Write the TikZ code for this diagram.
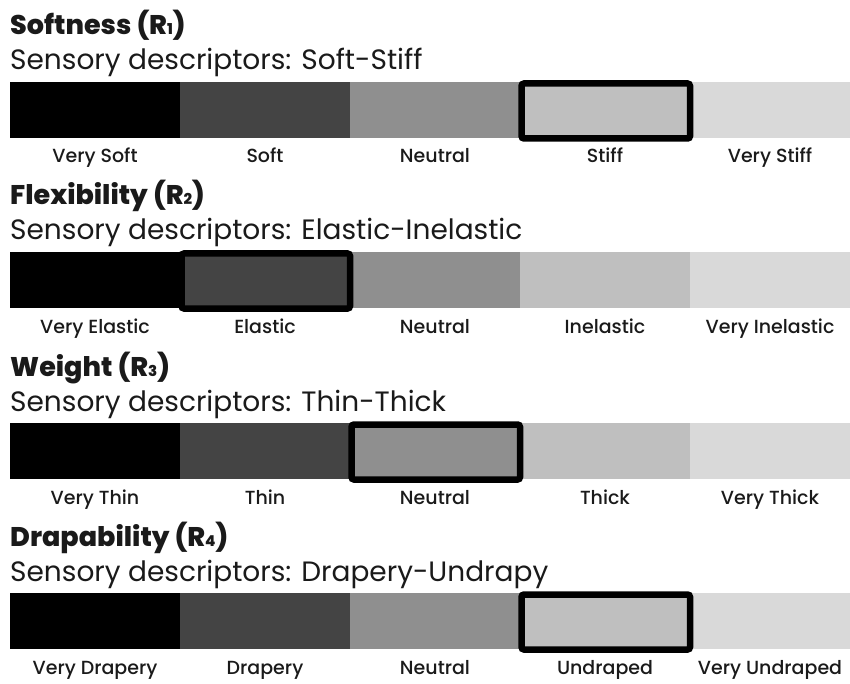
\documentclass[tikz,border=0pt]{standalone}
\usepackage{fontspec}
\setmainfont{Poppins}
\newfontfamily\headfont{Poppins ExtraBold}
\newfontfamily\lblfont{Poppins Medium}
\usetikzlibrary{calc}
\definecolor{shadeA}{HTML}{000000}
\definecolor{shadeB}{HTML}{444444}
\definecolor{shadeC}{HTML}{8F8F8F}
\definecolor{shadeD}{HTML}{BFBFBF}
\definecolor{shadeE}{HTML}{D9D9D9}
\definecolor{ink}{HTML}{1A1A1A}
\tikzset{
  seg/.style={inner sep=0pt, outer sep=0pt, minimum height=56pt, anchor=north west},
  heading/.style={anchor=base west, inner sep=0pt, text=ink, font=\headfont\fontsize{27}{27}\selectfont},
  descline/.style={anchor=base west, inner sep=0pt, text=ink, font=\fontsize{28}{28}\selectfont},
  lbl/.style={anchor=base, inner sep=0pt, text=ink, font=\lblfont\fontsize{19}{19}\selectfont},
  pick/.style={draw=black, line width=6.5pt, rounded corners=2.5pt}
}
% one rating scale: #1 id, #2 top of bar, #3 heading, #4 descriptor line, #5-#9 level labels
\newcommand{\ratingrow}[9]{%
  \node[heading] (#1t) at (10,#2-47) {#3};
  \node[descline] (#1d) at (10,#2-12) {#4};
  \node[seg, fill=shadeA, minimum width=170pt] (#1a) at (10,#2) {};
  \node[seg, fill=shadeB, minimum width=170pt] (#1b) at (180,#2) {};
  \node[seg, fill=shadeC, minimum width=170pt] (#1c) at (350,#2) {};
  \node[seg, fill=shadeD, minimum width=170pt] (#1e) at (520,#2) {};
  \node[seg, fill=shadeE, minimum width=160pt] (#1f) at (690,#2) {};
  \node[lbl] (#1la) at (95,#2+81) {#5};
  \node[lbl] (#1lb) at (265,#2+81) {#6};
  \node[lbl] (#1lc) at (435,#2+81) {#7};
  \node[lbl] (#1le) at (605,#2+81) {#8};
  \node[lbl] (#1lf) at (770,#2+81) {#9};
}
\newcommand{\rsub}[1]{R{\fontsize{15}{15}\selectfont #1}}
\newcommand{\marksel}[1]{%
  \draw[pick] ($(#1.north west)+(1.5,1.5)$) rectangle ($(#1.south east)+(0,0.5)$);}
\begin{document}
\begin{tikzpicture}[x=1pt,y=-1pt]
\useasboundingbox (0,0) rectangle (850,684);
\fill[white] (0,0) rectangle (850,684);
\ratingrow{r1}{82}{Softness (\rsub{1})}{Sensory descriptors: Soft-Stiff}{Very Soft}{Soft}{Neutral}{Stiff}{Very Stiff}
\ratingrow{r2}{252}{Flexibility (\rsub{2})}{Sensory descriptors: Elastic-Inelastic}{Very Elastic}{Elastic}{Neutral}{Inelastic}{Very Inelastic}
\ratingrow{r3}{423}{Weight (\rsub{3})}{Sensory descriptors: Thin-Thick}{Very Thin}{Thin}{Neutral}{Thick}{Very Thick}
\ratingrow{r4}{593}{Drapability (\rsub{4})}{Sensory descriptors: Drapery-Undrapy}{Very Drapery}{Drapery}{Neutral}{Undraped}{Very Undraped}
\marksel{r1e}
\marksel{r2b}
\marksel{r3c}
\marksel{r4e}
\end{tikzpicture}
\end{document}
